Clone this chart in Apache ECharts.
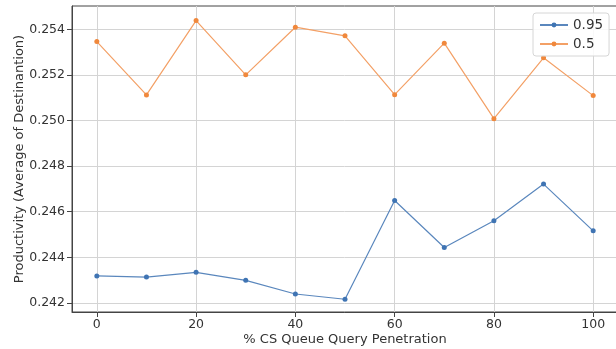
<!DOCTYPE html>
<html>
<head>
<meta charset="utf-8">
<script src="https://cdn.jsdelivr.net/npm/echarts@6/dist/echarts.min.js"></script>
<style>
  html, body { margin: 0; padding: 0; background: #ffffff; }
  #chart { width: 616px; height: 349px; }
</style>
</head>
<body>
<div id="chart"></div>
<script>
// Penetration levels (x) and productivity for the two settings
const penetration = [0, 10, 20, 30, 40, 50, 60, 70, 80, 90, 100];
const series095 = [0.24318, 0.24313, 0.24334, 0.24299, 0.24239, 0.24216, 0.24649, 0.24443, 0.24560, 0.24721, 0.24516];
const series05 = [0.25346, 0.25112, 0.25438, 0.25200, 0.25409, 0.25371, 0.25113, 0.25339, 0.25008, 0.25275, 0.25109];
const xTicks = [0, 20, 40, 60, 80, 100];
const yTicks = [0.242, 0.244, 0.246, 0.248, 0.250, 0.252, 0.254];

const FONT = 'DejaVu Sans';
const pairs = (xs, ys) => xs.map((x, i) => [x, ys[i]]);

const chart = echarts.init(document.getElementById('chart'), null, { renderer: 'canvas' });
chart.setOption({
  animation: false,
  backgroundColor: '#ffffff',
  grid: {
    left: 72, top: 6, width: 546, height: 306, containLabel: false,
    outerBoundsMode: 'none',
    show: true, borderColor: '#444444', borderWidth: 1, backgroundColor: 'transparent'
  },
  legend: {
    orient: 'vertical',
    left: 533,
    top: 13,
    padding: [5, 6, 5, 6],
    itemGap: 5,
    itemWidth: 28,
    itemHeight: 6,
    backgroundColor: 'rgba(255,255,255,0.85)',
    borderColor: '#d6d6d6',
    borderWidth: 1,
    borderRadius: 3,
    textStyle: { fontFamily: FONT, fontSize: 13.5, color: '#333333' },
    data: ['0.95', '0.5']
  },
  xAxis: {
    type: 'value',
    min: -5,
    max: 105,
    name: '% CS Queue Query Penetration',
    nameLocation: 'middle',
    nameGap: 21,
    nameMoveOverlap: false,
    nameTextStyle: { fontFamily: FONT, fontSize: 13, color: '#333333' },
    axisLine: { show: true, onZero: false, lineStyle: { color: '#444444', width: 1 } },
    axisTick: { show: true, length: 5, customValues: xTicks, lineStyle: { color: '#444444' } },
    axisLabel: { customValues: xTicks, margin: 6, fontFamily: FONT, fontSize: 12.5, color: '#333333' },
    splitLine: { show: true, lineStyle: { color: '#d4d4d4', width: 1 } }
  },
  yAxis: {
    type: 'value',
    min: 0.2416,
    max: 0.25502,
    name: 'Productivity (Average of Destinantion)',
    nameLocation: 'middle',
    nameGap: 46,
    nameMoveOverlap: false,
    nameTextStyle: { fontFamily: FONT, fontSize: 13, color: '#333333' },
    axisLine: { show: true, onZero: false, lineStyle: { color: '#444444', width: 1 } },
    axisTick: { show: true, length: 5, customValues: yTicks, lineStyle: { color: '#444444' } },
    axisLabel: {
      customValues: yTicks, margin: 7, fontFamily: FONT, fontSize: 12.5, color: '#333333',
      formatter: v => v.toFixed(3)
    },
    splitLine: { show: true, lineStyle: { color: '#d4d4d4', width: 1 } }
  },
  series: [
    {
      name: '0.95',
      type: 'line',
      data: pairs(penetration, series095),
      symbol: 'circle',
      symbolSize: 5,
      color: '#3f74b3',
      lineStyle: { width: 1.2, color: '#5a87bd' },
      itemStyle: { color: '#3f74b3' }
    },
    {
      name: '0.5',
      type: 'line',
      data: pairs(penetration, series05),
      symbol: 'circle',
      symbolSize: 5,
      color: '#f0883c',
      lineStyle: { width: 1.2, color: '#f3a066' },
      itemStyle: { color: '#f0883c' }
    }
  ]
});
</script>
</body>
</html>
